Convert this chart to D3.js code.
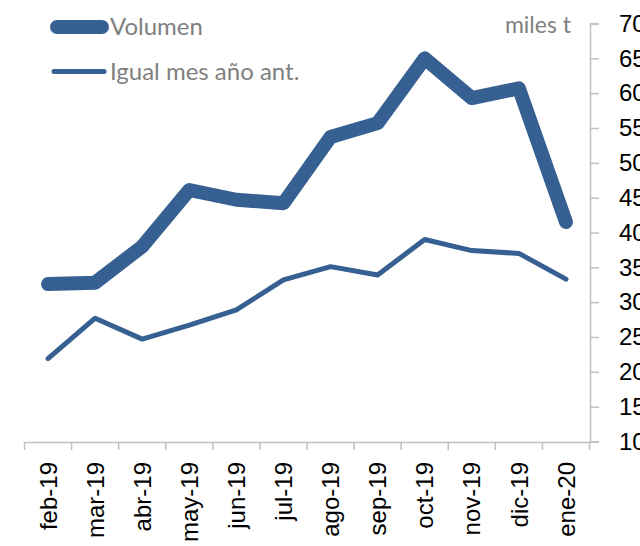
<!DOCTYPE html>
<html>
<head>
<meta charset="utf-8">
<script src="https://cdn.jsdelivr.net/npm/d3@7"></script>
<style>
  body { margin: 0; background: #fff; }
  svg { display: block; font-family: Lato, "Open Sans", sans-serif; }
</style>
</head>
<body>
<script>
var months = ["feb-19", "mar-19", "abr-19", "may-19", "jun-19", "jul-19",
              "ago-19", "sep-19", "oct-19", "nov-19", "dic-19", "ene-20"];
var volumen = [32.6, 32.8, 38.0, 46.1, 44.7, 44.2, 53.7, 55.7, 65.0, 59.3, 60.7, 41.5];
var igualMes = [21.9, 27.7, 24.7, 26.7, 28.9, 33.2, 35.1, 33.9, 39.0, 37.4, 37.0, 33.3];
var yTicks = [10, 15, 20, 25, 30, 35, 40, 45, 50, 55, 60, 65, 70];

var w = 640, h = 546;
var blue = "#366092";
var axisGray = "#bfbfbf";
var textGray = "#7f7f7f";

var svg = d3.select("body").append("svg").attr("width", w).attr("height", h);

var x = d3.scaleBand().domain(months).range([24.5, 589.5]);
var y = d3.scaleLinear().domain([10, 70]).range([441.5, 23.5]);

// y axis on the right
var yAxis = d3.axisRight(y).tickValues(yTicks).tickSize(9).tickPadding(20);
var gy = svg.append("g").attr("transform", "translate(590,0)").call(yAxis);
gy.select(".domain").attr("stroke", axisGray).attr("stroke-width", 1.5);
gy.selectAll(".tick line").attr("stroke", axisGray).attr("stroke-width", 1.5);
gy.selectAll(".tick text").attr("fill", "#000").style("font-size", "24px");

// x axis, labels at centers, ticks at boundaries
var xAxis = d3.axisBottom(x).tickSize(0).tickPadding(0);
var gx = svg.append("g").attr("transform", "translate(0,442)").call(xAxis);
gx.select(".domain").attr("stroke", axisGray).attr("stroke-width", 1.5);
gx.selectAll(".tick text")
  .attr("fill", "#000")
  .style("font-size", "24px")
  .attr("text-anchor", "end")
  .attr("transform", "rotate(-90)")
  .attr("x", -20)
  .attr("y", 0)
  .attr("dy", "0.36em");

var bounds = months.map(function(m) { return x(m); }).concat([x.range()[1]]);
gx.selectAll(".bound")
  .data(bounds)
  .enter()
  .append("line")
  .attr("class", "bound")
  .attr("x1", function(d) { return d; })
  .attr("x2", function(d) { return d; })
  .attr("y1", 0)
  .attr("y2", 8)
  .attr("stroke", axisGray)
  .attr("stroke-width", 1.5);

var line = d3.line()
  .x(function(d, i) { return x(months[i]) + x.bandwidth() / 2; })
  .y(function(d) { return y(d); });

svg.append("path")
  .datum(igualMes)
  .attr("d", line)
  .attr("fill", "none")
  .attr("stroke", blue)
  .attr("stroke-width", 5)
  .attr("stroke-linejoin", "round")
  .attr("stroke-linecap", "round");

svg.append("path")
  .datum(volumen)
  .attr("d", line)
  .attr("fill", "none")
  .attr("stroke", blue)
  .attr("stroke-width", 14)
  .attr("stroke-linejoin", "round")
  .attr("stroke-linecap", "round");

// legend
var legend = [
  {name: "Volumen", width: 14, x1: 57, x2: 102, y: 27, ty: 35},
  {name: "Igual mes año ant.", width: 5, x1: 54, x2: 104, y: 71.5, ty: 80}
];
var lg = svg.selectAll(".legend").data(legend).enter().append("g").attr("class", "legend");
lg.append("line")
  .attr("x1", function(d) { return d.x1; })
  .attr("x2", function(d) { return d.x2; })
  .attr("y1", function(d) { return d.y; })
  .attr("y2", function(d) { return d.y; })
  .attr("stroke", blue)
  .attr("stroke-width", function(d) { return d.width; })
  .attr("stroke-linecap", "round");
lg.append("text")
  .attr("x", 110)
  .attr("y", function(d) { return d.ty; })
  .attr("fill", textGray)
  .style("font-size", "24px")
  .text(function(d) { return d.name; });

svg.append("text")
  .attr("x", 571)
  .attr("y", 33)
  .attr("text-anchor", "end")
  .attr("fill", textGray)
  .style("font-size", "23px")
  .text("miles t");
</script>
</body>
</html>
